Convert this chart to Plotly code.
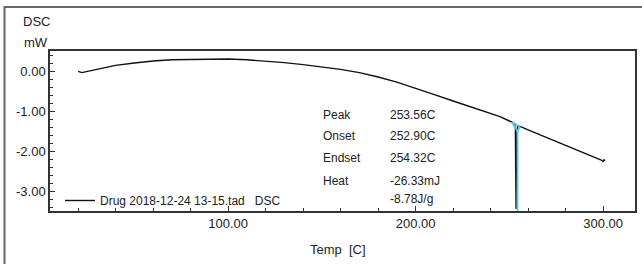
import numpy as np
import plotly.graph_objects as go

# ---- data ----
temp_c = [20, 21, 22, 25, 30, 35, 40, 50, 60, 70, 80, 90, 100, 110, 120, 130,
          140, 150, 160, 170, 180, 190, 200, 210, 220, 230, 240, 245, 250, 252,
          252.9, 253.2, 253.4, 253.56, 253.7, 253.9, 254.32, 255, 256, 260, 270,
          280, 290, 299, 300, 300.4, 301]
dsc_mw = [-0.01, -0.03, -0.04, -0.01, 0.04, 0.10, 0.14, 0.20, 0.25, 0.28, 0.29,
          0.30, 0.30, 0.28, 0.25, 0.21, 0.16, 0.10, 0.04, -0.04, -0.15, -0.28,
          -0.43, -0.59, -0.75, -0.91, -1.06, -1.14, -1.25, -1.29, -1.33, -1.45,
          -2.6, -3.45, -2.6, -1.6, -1.40, -1.38, -1.39, -1.47, -1.66, -1.86,
          -2.05, -2.23, -2.26, -2.22, -2.24]

peak_temp = 253.56
onset_temp = 252.90
endset_temp = 254.32
peak_min = -3.55

x_tick_vals = [100, 200, 300]
x_tick_text = ["100.00", "200.00", "300.00"]
y_tick_vals = [0, -1, -2, -3]
y_tick_text = ["0.00", "-1.00", "-2.00", "-3.00"]

result_labels = ["Peak", "Onset", "Endset", "Heat", ""]
result_values = ["253.56C", "252.90C", "254.32C", "-26.33mJ", "-8.78J/g"]

legend_name = "Drug 2018-12-24 13-15.tad   DSC"

FONT = "Liberation Sans, Arial, sans-serif"
TXT = "#222222"

fig = go.Figure()

fig.add_trace(go.Scatter(
    x=temp_c, y=dsc_mw, mode="lines", name=legend_name,
    line=dict(color="#111111", width=1.4)))

# integration / baseline marks (cyan), drawn over the curve
cyan_x = peak_temp + 0.8
b_left = onset_temp - 1.6
b_right = endset_temp + 1.4
y_bl = float(np.interp(b_left, temp_c, dsc_mw))
y_br = float(np.interp(b_right, temp_c, dsc_mw))
y_pk = float(np.interp(cyan_x, [b_left, b_right], [y_bl, y_br]))
fig.add_trace(go.Scatter(
    x=[b_left, cyan_x, b_right, None, b_left, b_right, None, cyan_x, cyan_x],
    y=[y_bl, y_pk - 0.15, y_br, None, y_bl, y_br, None, y_pk - 0.15, peak_min],
    mode="lines", line=dict(color="#5cc8e0", width=1.8), showlegend=False,
    hoverinfo="skip"))

fig.update_layout(
    width=642, height=264,
    margin=dict(l=50, r=7, t=51, b=53, autoexpand=False),
    paper_bgcolor="white", plot_bgcolor="white",
    font=dict(family=FONT, size=13, color=TXT),
    showlegend=True,
    legend=dict(x=10 / 585, y=-4 / 160, xanchor="left", yanchor="bottom",
                bgcolor="rgba(0,0,0,0)", borderwidth=0,
                font=dict(size=12, color=TXT), itemwidth=30),
)

fig.update_xaxes(
    range=[5, 317], showgrid=False, zeroline=False,
    tickvals=x_tick_vals, ticktext=x_tick_text,
    ticks="inside", ticklen=5, tickcolor="#333", tickwidth=1,
    minor=dict(ticks="inside", ticklen=3, dtick=20, tick0=0, tickcolor="#333"),
    showline=True, linecolor="#333", linewidth=1.5, mirror=True,
    tickfont=dict(size=13, color=TXT, family=FONT),
)
fig.update_yaxes(
    range=[-3.5, 0.5], showgrid=False, zeroline=False,
    tickvals=y_tick_vals, ticktext=y_tick_text,
    ticks="inside", ticklen=5, tickcolor="#333", tickwidth=1,
    minor=dict(ticks="inside", ticklen=3, dtick=0.2, tick0=0, tickcolor="#333"),
    showline=True, linecolor="#333", linewidth=1.5, mirror=True,
    tickfont=dict(size=13, color=TXT, family=FONT),
)

ann = []
# axis titles
ann.append(dict(text="DSC", x=(36 - 50) / 585, y=(211 - 21) / 160, xref="paper",
                yref="paper", xanchor="center", yanchor="middle", showarrow=False,
                font=dict(size=13, color=TXT)))
ann.append(dict(text="mW", x=(36 - 50) / 585, y=(211 - 43) / 160, xref="paper",
                yref="paper", xanchor="center", yanchor="middle", showarrow=False,
                font=dict(size=13, color=TXT)))
ann.append(dict(text="Temp  [C]", x=(338 - 50) / 585, y=(211 - 249) / 160,
                xref="paper", yref="paper", xanchor="center", yanchor="middle",
                showarrow=False, font=dict(size=13, color=TXT)))
# results table
row_y = [115, 136, 158, 181, 199]
for lab, val, py in zip(result_labels, result_values, row_y):
    yy = (211 - py) / 160
    if lab:
        ann.append(dict(text=lab, x=(321 - 50) / 585, y=yy, xref="paper",
                        yref="paper", xanchor="left", yanchor="middle",
                        showarrow=False, font=dict(size=12, color=TXT)))
    ann.append(dict(text=val, x=(388 - 50) / 585, y=yy, xref="paper",
                    yref="paper", xanchor="left", yanchor="middle",
                    showarrow=False, font=dict(size=12, color=TXT)))
fig.update_layout(annotations=ann)

# outer frame
fig.add_shape(type="rect", xref="paper", yref="paper",
              x0=(4.5 - 50) / 585, x1=1.2, y0=-0.4, y1=1 + (51 - 7) / 160,
              line=dict(color="#666666", width=2), layer="above")

fig.write_html("out.html",
               config={"displayModeBar": False},
               post_script="document.body.style.margin='0';"
                           "document.body.style.overflow='hidden';")
